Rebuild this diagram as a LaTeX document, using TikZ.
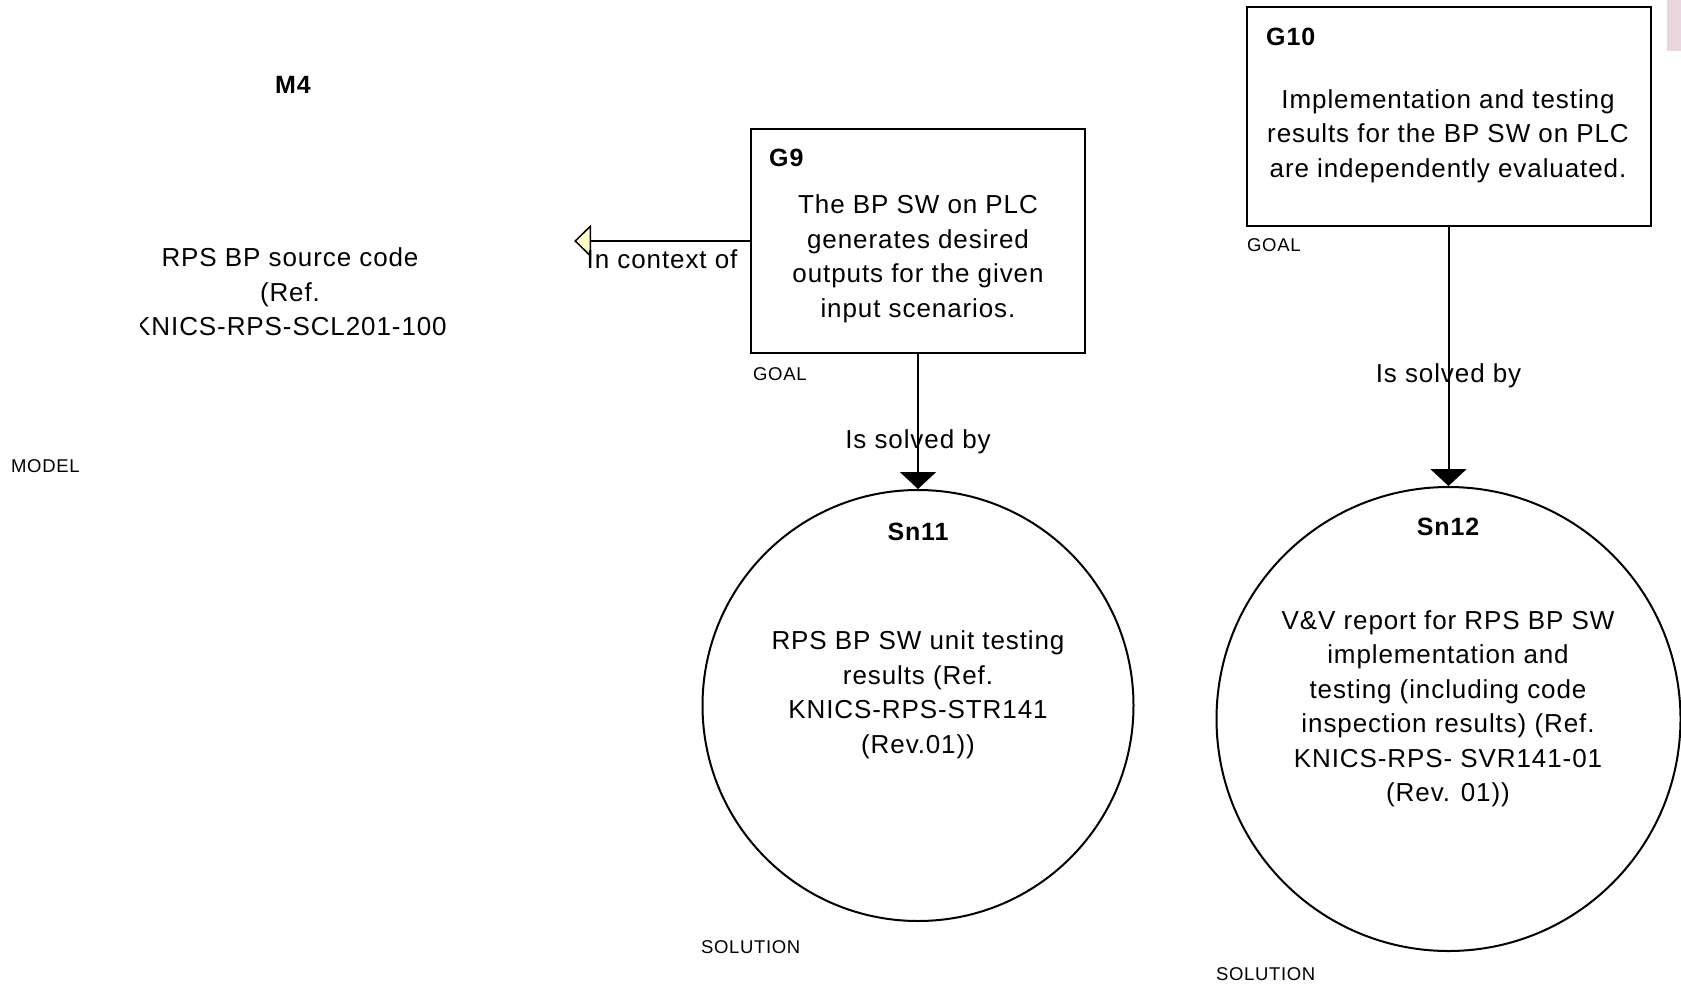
\documentclass[tikz,border=0pt]{standalone}
\usepackage{fontspec}
\setmainfont{Liberation Sans}[LetterSpace=3.5]
\usetikzlibrary{arrows.meta,positioning}
\definecolor{ctxfill}{RGB}{255,255,204}
\definecolor{tabpink}{RGB}{234,214,222}

\begin{document}
\begin{tikzpicture}[x=1pt,y=-1pt,
    goal/.style={draw=black,line width=2pt,inner sep=0pt},
    solution/.style={circle,draw=black,line width=2pt,inner sep=0pt},
    model/.style={inner sep=0pt},
    title/.style={font=\fontsize{25}{28}\selectfont\bfseries,inner sep=0pt},
    body/.style={align=center,font=\fontsize{26}{34.5}\selectfont,inner sep=0pt},
    kind/.style={anchor=west,font=\fontsize{18.5}{20}\selectfont,inner sep=0pt},
    rel/.style={font=\fontsize{26}{30}\selectfont,inner sep=0pt,fill=none},
    solved/.style={line width=2pt,-{Triangle[length=17pt,width=36pt]}},
    context/.style={line width=2pt,-{Triangle[length=17pt,width=33pt,fill=ctxfill,line width=1.5pt]}}]
  \useasboundingbox (0,0) rectangle (1681,985);
  \fill[tabpink] (1667,0) rectangle (1681,51);
  % model
  \node[model,minimum width=563pt,minimum height=420pt] at (292.5,241) (m4) {};
  \node[title] at (293,85) (m4t) {M4};
  \begin{scope}
    \clip (140,0) rectangle (574,985);
    \node[body] at (290,292) (m4b) {RPS BP source code\\(Ref.\\KNICS-RPS-SCL201-100};
  \end{scope}
  \node[kind] at (11,466) (m4k) {MODEL};
  % goals
  \node[goal,minimum width=334pt,minimum height=224pt] at (918,241) (g9) {};
  \node[title,anchor=west] at (769,158) (g9t) {G9};
  \node[body] at (918,259) (g9b) {The BP SW on PLC\\generates desired\\outputs for the given\\input scenarios.};
  \node[kind] at (753,374) (g9k) {GOAL};
  \node[goal,minimum width=404pt,minimum height=219pt] at (1448.5,116.5) (g10) {};
  \node[title,anchor=west] at (1266,37) (g10t) {G10};
  \node[body] at (1448,136) (g10b) {Implementation and testing\\results for the BP SW on PLC\\are independently evaluated.};
  \node[kind] at (1247,245) (g10k) {GOAL};
  % solutions
  \node[solution,minimum size=431pt] at (918,705.5) (sn11) {};
  \node[title] at (918,532) (sn11t) {Sn11};
  \node[body] at (918,695) (sn11b) {RPS BP SW unit testing\\results (Ref.\\KNICS-RPS-STR141\\(Rev.01))};
  \node[kind] at (701,947) (sn11k) {SOLUTION};
  \node[solution,minimum size=464pt] at (1448.5,719) (sn12) {};
  \node[title] at (1448,527) (sn12t) {Sn12};
  \node[body] at (1448,709) (sn12b) {V\&V report for RPS BP SW\\implementation and\\testing (including code\\inspection results) (Ref.\\KNICS-RPS- SVR141-01\\(Rev. 01))};
  \node[kind] at (1216,974) (sn12k) {SOLUTION};
  % links
  \draw[context] (g9.west) -- node[rel,midway,yshift=-18pt] {In context of} (m4.east);
  \draw[solved] (g9.south) -- node[rel,midway,yshift=-20pt] {Is solved by} (sn11.north);
  \draw[solved] (g10.south) -- node[rel,midway,yshift=-19pt] {Is solved by} (sn12.north);
\end{tikzpicture}
\end{document}
